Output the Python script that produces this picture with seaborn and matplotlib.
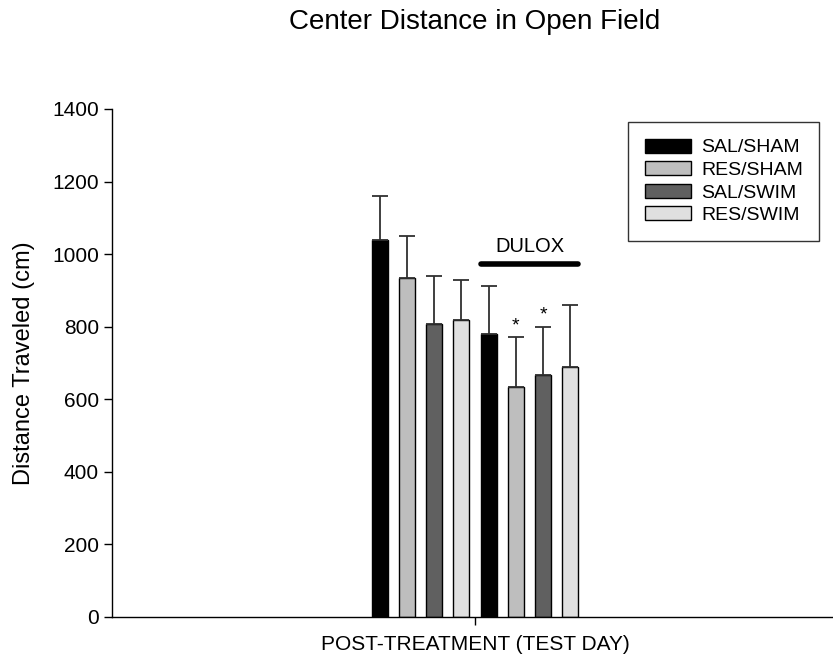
import numpy as np
import pandas as pd
import matplotlib
matplotlib.use("Agg")
import matplotlib.pyplot as plt
import seaborn as sns
from matplotlib.patches import Patch

# Data
day_label = "POST-TREATMENT (TEST DAY)"
groups = ["SAL/SHAM", "RES/SHAM", "SAL/SWIM", "RES/SWIM",
          "SAL/SHAM+DULOX", "RES/SHAM+DULOX", "SAL/SWIM+DULOX", "RES/SWIM+DULOX"]
means = [1040, 935, 808, 819, 780, 633, 667, 690]
sems = [120, 115, 131, 110, 131, 138, 132, 171]
significant = [False, False, False, False, False, True, True, False]
legend_labels = ["SAL/SHAM", "RES/SHAM", "SAL/SWIM", "RES/SWIM"]
group_colors = ["#000000", "#bebebe", "#606060", "#e0e0e0"]

df = pd.DataFrame({"day": [day_label] * len(groups), "group": groups, "distance": means})

sns.set_theme(style="ticks")
plt.rcParams["font.family"] = ["Liberation Sans", "DejaVu Sans"]
plt.rcParams.update({"text.color": "black", "axes.labelcolor": "black",
                     "xtick.color": "black", "ytick.color": "black"})

fig = plt.figure(figsize=(8.33, 6.55), dpi=100)
ax = fig.add_axes([112 / 833, 38 / 655, 726 / 833, 508 / 655])

sns.barplot(data=df, x="day", y="distance", hue="group", hue_order=groups,
            palette=group_colors * 2, width=0.30, gap=0.41, errorbar=None,
            edgecolor="black", linewidth=1, legend=False, ax=ax)

# error bars (upper only), positioned from the drawn bars
bars = sorted(ax.patches, key=lambda p: p.get_x())
centers = [b.get_x() + b.get_width() / 2 for b in bars]
ax.errorbar(centers, means, yerr=[np.zeros(len(sems)), sems], fmt="none",
            ecolor="#303030", elinewidth=1.3, capsize=5.5, capthick=1.3, zorder=1)

# significance stars
for c, m, s, sig in zip(centers, means, sems, significant):
    if sig:
        ax.text(c, m + s + 32, "*", ha="center", va="center", fontsize=14)

# DULOX bracket over the treated groups
x0 = bars[4].get_x()
x1 = bars[7].get_x() + bars[7].get_width()
ax.plot([x0, x1], [972, 972], color="black", lw=4, solid_capstyle="round")
ax.text((x0 + x1) / 2, 1022, "DULOX", ha="center", va="center", fontsize=14.5)

ax.set_xlim(-0.5, 0.5)
ax.set_ylim(0, 1400)
ax.set_yticks(range(0, 1401, 200))
ax.tick_params(axis="both", direction="out", length=6, width=1, labelsize=15)
ax.tick_params(axis="x", pad=7)
ax.set_xlabel("")
ax.set_ylabel("Distance Traveled (cm)", fontsize=17, labelpad=12)
sns.despine(ax=ax)
for sp in ["left", "bottom"]:
    ax.spines[sp].set_color("black")
    ax.spines[sp].set_linewidth(1)

fig.suptitle("Center Distance in Open Field", x=475 / 833, y=0.987, fontsize=20)

handles = [Patch(facecolor=c, edgecolor="black", linewidth=1) for c in group_colors]
leg = ax.legend(handles, legend_labels, loc="upper left",
                bbox_to_anchor=((628 - 112) / 726, (617 - 122) / 508),
                fontsize=14, frameon=True, fancybox=False, edgecolor="black",
                handlelength=2.4, handleheight=0.75, labelspacing=0.24,
                borderpad=0.85, handletextpad=0.5, borderaxespad=0)
leg.get_frame().set_linewidth(1)

fig.savefig("out.png", dpi=100)
